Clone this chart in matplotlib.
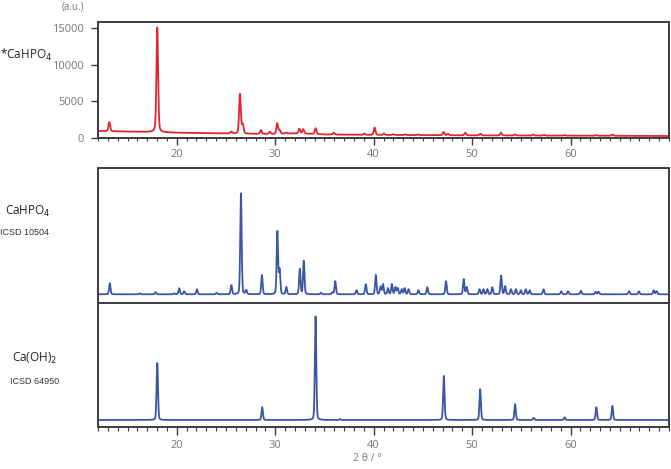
import numpy as np
import matplotlib
matplotlib.use("Agg")
import matplotlib.pyplot as plt
from matplotlib.ticker import MultipleLocator

# ---------------- data ----------------
# Sample *CaHPO4 (experimental, counts): peak positions (2theta) and net heights
sample_pos = [13.15, 18.02, 25.55, 26.42, 26.70, 28.55, 29.45, 30.20, 30.45, 31.10,
              32.45, 32.85, 34.10, 35.95, 39.05, 40.10, 41.05, 42.00, 43.20, 44.50,
              47.10, 47.55, 49.30, 50.85, 52.95, 54.35, 56.20, 57.30, 59.40, 62.60,
              64.25]
sample_int = [1250, 14300, 250, 5400, 1200, 520, 300, 1450, 500, 150,
              650, 600, 800, 250, 180, 1000, 200, 120, 100, 100,
              450, 200, 350, 220, 380, 150, 130, 100, 80, 90,
              180]
# background of the sample trace, read every few degrees
bg_x = [12, 14, 16, 18, 20, 22, 24, 26, 28, 30, 31.5, 33, 35, 40, 45, 50, 55, 60, 65, 70]
bg_y = [950, 900, 850, 800, 720, 680, 640, 600, 560, 540, 620, 600, 480, 420, 390, 360, 340, 320, 300, 270]

# Reference CaHPO4, ICSD 10504 (relative intensity)
cahpo4_pos = [13.20, 16.25, 17.85, 19.75, 20.25, 20.75, 22.05, 24.05, 25.55, 26.52,
              27.05, 28.65, 30.22, 30.45, 31.13, 32.50, 32.90, 34.65, 35.80, 36.10,
              38.25, 39.20, 40.22, 40.70, 40.95, 41.45, 41.85, 42.21, 42.45, 42.85,
              43.15, 43.55, 44.55, 45.45, 47.35, 49.15, 49.45, 50.75, 51.15, 51.55,
              52.05, 52.95, 53.35, 53.95, 54.45, 54.95, 55.45, 55.85, 57.25, 59.05,
              59.75, 61.05, 62.55, 62.85, 65.95, 66.95, 68.45, 68.75]
cahpo4_int = [11, 1, 2, 1, 6, 3, 5, 1.5, 9, 100,
              4, 19, 62, 24, 7, 25, 33, 1.5, 2, 13,
              4, 10, 19, 7.5, 10, 6, 10, 7, 6, 5,
              6, 5, 4, 7, 13, 15, 7, 5, 5, 5,
              7, 18.5, 8, 5, 5, 4, 5, 4, 5, 3,
              3, 3.5, 2.5, 2.5, 3, 3, 4, 3]

# Reference Ca(OH)2, ICSD 64950 (relative intensity)
caoh2_pos = [18.02, 28.68, 34.10, 36.60, 47.13, 50.82, 54.37, 56.25, 59.40, 62.62, 64.25]
caoh2_int = [55, 12.3, 100, 0.8, 42.6, 29.7, 15.2, 2, 2.5, 12.3, 13.5]

x_ticks = [20, 30, 40, 50, 60]
y_ticks_top = [0, 5000, 10000, 15000]


def profile(x, pos, hgt, fwhm=0.17, eta=0.35):
    y = np.zeros_like(x)
    for p, h in zip(pos, hgt):
        g = np.exp(-4 * np.log(2) * ((x - p) / fwhm) ** 2)
        l = 1.0 / (1.0 + 4 * ((x - p) / fwhm) ** 2)
        y += h * ((1 - eta) * g + eta * l)
    return y


x = np.linspace(12, 70, 6000)
y_sample = np.interp(x, bg_x, bg_y) + profile(x, sample_pos, sample_int, fwhm=0.2, eta=0.3)
y_cahpo4 = profile(x, cahpo4_pos, cahpo4_int, fwhm=0.17, eta=0.2)
y_caoh2 = profile(x, caoh2_pos, caoh2_int, fwhm=0.17, eta=0.2)

RED = "#e0262e"
BLUE = "#3b56a3"
SPINE = "#3c3c3c"
GRAY = "#777777"

W, H = 671, 469
fig = plt.figure(figsize=(W / 100, H / 100), dpi=100)


def ax_rect(x0, y0, x1, y1):
    return [x0 / W, 1 - y1 / H, (x1 - x0) / W, (y1 - y0) / H]


ax1 = fig.add_axes(ax_rect(98, 22, 669, 138))
ax2 = fig.add_axes(ax_rect(98, 168, 669, 303))
ax3 = fig.add_axes(ax_rect(98, 303, 669, 427))

for ax in (ax1, ax2, ax3):
    for s in ax.spines.values():
        s.set_color(SPINE)
        s.set_linewidth(1.4)
    ax.set_xlim(12, 70)

# top panel
ax1.plot(x, y_sample, color=RED, lw=1.3)
ax1.set_ylim(0, 15830)
ax1.set_yticks(y_ticks_top)
ax1.set_xticks(x_ticks)
ax1.xaxis.set_minor_locator(MultipleLocator(1))
ax1.tick_params(axis="both", which="major", direction="out", length=5, width=1.0,
                color=SPINE, labelcolor=GRAY, labelsize=8, pad=3)
ax1.tick_params(axis="y", which="major", pad=5)
ax1.tick_params(axis="x", which="minor", direction="out", length=2.5, width=0.8, color=SPINE)
for lab in ax1.get_xticklabels() + ax1.get_yticklabels():
    lab.set_family("Open Sans")

# middle panel
ax2.plot(x, y_cahpo4, color=BLUE, lw=1.3)
ax2.set_ylim(-8.6, 125)
ax2.set_xticks([])
ax2.set_yticks([])

# bottom panel
ax3.plot(x, y_caoh2, color=BLUE, lw=1.3)
ax3.set_ylim(-6.8, 113)
ax3.set_yticks([])
ax3.set_xticks(x_ticks)
ax3.xaxis.set_minor_locator(MultipleLocator(1))
ax3.tick_params(axis="x", which="major", direction="out", length=6, width=1.0,
                color=SPINE, labelcolor=GRAY, labelsize=8, pad=3)
ax3.tick_params(axis="x", which="minor", direction="out", length=3, width=0.8, color=SPINE)
for lab in ax3.get_xticklabels():
    lab.set_family("Open Sans")

# texts
def ftext(px, py, s, **kw):
    fig.text(px / W, 1 - py / H, s, **kw)

ftext(73, 7, "(a.u.)", ha="center", va="center", fontsize=7, color=GRAY,
      family="Open Sans")
ftext(0, 55, "*CaHPO$_4$", ha="left", va="center", fontsize=8.5, color="#222222",
      family="Open Sans")
ftext(28, 211, "CaHPO$_4$", ha="center", va="center", fontsize=8.5, color="#222222",
      family="Open Sans")
ftext(24, 232, "ICSD 10504", ha="center", va="center", fontsize=6.5, color="#333333",
      family="Liberation Sans")
ftext(35, 358, "Ca(OH)$_2$", ha="center", va="center", fontsize=8.5, color="#222222",
      family="Open Sans")
ftext(35, 381, "ICSD 64950", ha="center", va="center", fontsize=6.5, color="#333333",
      family="Liberation Sans")
ftext(367, 458, "2 θ / °", ha="center", va="center", fontsize=7.5, color=GRAY,
      family="Open Sans")

fig.savefig("out.png", dpi=100)
